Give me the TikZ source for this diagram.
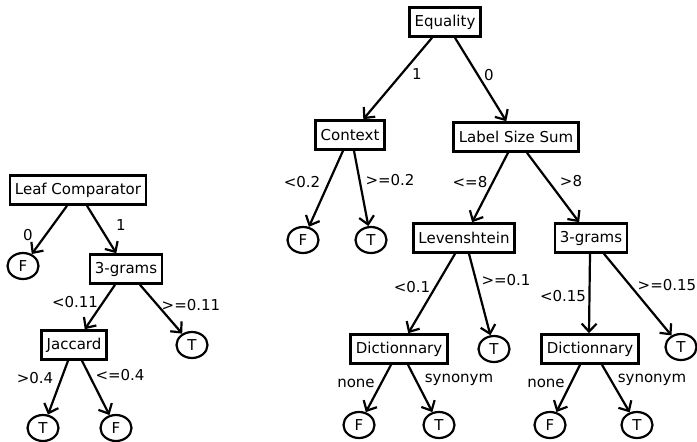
\documentclass[tikz,border=0pt]{standalone}
\usepackage{fontspec}
\setmainfont{DejaVu Sans}
\usetikzlibrary{arrows.meta,shapes.geometric}
\begin{document}
\begin{tikzpicture}[x=1pt,y=-1pt,
  font=\fontsize{15}{18}\selectfont,
  box/.style={draw,line width=2.6pt,inner xsep=5pt,inner ysep=0pt,minimum height=29pt},
  leaf/.style={draw,ellipse,line width=2.2pt,inner sep=0pt,minimum width=31pt,minimum height=26pt},
  arr/.style={line width=2.2pt,-{Straight Barb[length=8pt,width=15pt,line width=2.2pt]}},
  lab/.style={inner sep=0pt}]
\useasboundingbox (0,0) rectangle (697,442);
% left tree
\node[box] (lc) at (78,190) {Leaf Comparator};
\node[leaf] (f1) at (23,266) {F};
\node[box] (g1) at (126,269) {3-grams};
\node[box] (jac) at (74,345) {Jaccard};
\node[leaf] (t1) at (192,345) {T};
\node[leaf] (t2) at (43,428) {T};
\node[leaf] (f2) at (116,428) {F};
\draw[arr] ([xshift=-11pt]lc.south) -- (f1);
\draw[arr] ([xshift=9pt]lc.south) -- (g1);
\draw[arr] ([xshift=-11pt]g1.south) -- (jac);
\draw[arr] ([xshift=14pt]g1.south) -- (t1);
\draw[arr] ([xshift=-6pt]jac.south) -- (t2);
\draw[arr] ([xshift=8pt]jac.south) -- (f2);
\node[lab] (la) at (28,235) {0};
\node[lab] (lb) at (121,225) {1};
\node[lab] (lc1) at (75,302) {<0.11};
\node[lab] (ld) at (191,305) {>=0.11};
\node[lab] (le) at (35,378) {>0.4};
\node[lab] (lf) at (120,375) {<=0.4};
% right tree
\node[box] (eq) at (445,22) {Equality};
\node[box] (ctx) at (350,135) {Context};
\node[box] (lss) at (516,137) {Label Size Sum};
\node[leaf] (f3) at (303,240) {F};
\node[leaf] (t3) at (371,240) {T};
\node[box] (lev) at (464,238) {Levenshtein};
\node[box] (g2) at (591,238) {3-grams};
\node[box] (d1) at (399,349) {Dictionnary};
\node[leaf] (t4) at (494,349) {T};
\node[box] (d2) at (590,349) {Dictionnary};
\node[leaf] (t5) at (681,347) {T};
\node[leaf] (f4) at (359,425) {F};
\node[leaf] (t6) at (439,425) {T};
\node[leaf] (f5) at (550,425) {F};
\node[leaf] (t7) at (637,425) {T};
\draw[arr] ([xshift=-13pt]eq.south) -- (ctx);
\draw[arr] ([xshift=10pt]eq.south) -- (lss);
\draw[arr] ([xshift=-7pt]ctx.south) -- (f3);
\draw[arr] ([xshift=4pt]ctx.south) -- (t3);
\draw[arr] ([xshift=-8pt]lss.south) -- (lev);
\draw[arr] ([xshift=11pt]lss.south) -- (g2);
\draw[arr] ([xshift=-9pt]lev.south) -- (d1);
\draw[arr] ([xshift=5pt]lev.south) -- (t4);
\draw[arr] ([xshift=-1pt]g2.south) -- ([xshift=-1pt]d2.north);
\draw[arr] ([xshift=13pt]g2.south) -- (t5);
\draw[arr] ([xshift=-8pt]d1.south) -- (f4);
\draw[arr] ([xshift=9pt]d1.south) -- (t6);
\draw[arr] ([xshift=-10pt]d2.south) -- (f5);
\draw[arr] ([xshift=12pt]d2.south) -- (t7);
\node[lab] (m1) at (417,74) {1};
\node[lab] (m2) at (489,75) {0};
\node[lab] (m3) at (302,182) {<0.2};
\node[lab] (m4) at (390,180) {>=0.2};
\node[lab] (m5) at (470,182) {<=8};
\node[lab] (m6) at (571,181) {>8};
\node[lab] (m7) at (412,287) {<0.1};
\node[lab] (m8) at (506,280) {>=0.1};
\node[lab] (m9) at (563,296) {<0.15};
\node[lab] (m10) at (667,285) {>=0.15};
\node[lab] (m11) at (356,383) {none};
\node[lab] (m12) at (459,380) {synonym};
\node[lab] (m13) at (546,383) {none};
\node[lab] (m14) at (652,380) {synonym};
\end{tikzpicture}
\end{document}
